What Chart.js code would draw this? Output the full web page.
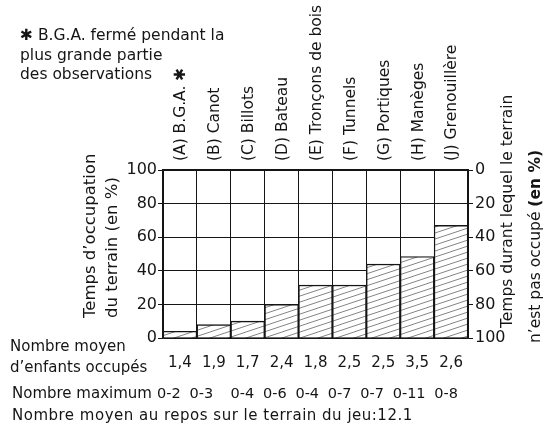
<!DOCTYPE html>
<html><head><meta charset="utf-8">
<script src="https://cdn.jsdelivr.net/npm/chart.js@4/dist/chart.umd.min.js"></script>
<style>html,body{margin:0;padding:0;background:#fff}</style>
</head><body>
<canvas id="c" width="555" height="429"></canvas>
<script>
// ---- data ----
const categories = ["(A) B.G.A. \u2731", "(B) Canot", "(C) Billots", "(D) Bateau", "(E) Tron\u00e7ons de bois", "(F) Tunnels", "(G) Portiques", "(H) Man\u00e8ges", "(J) Grenouill\u00e8re"];
const occupationPct = [4, 8, 10, 20, 31.5, 31.5, 44, 48.5, 67];
const meanChildren = ["1,4", "1,9", "1,7", "2,4", "1,8", "2,5", "2,5", "3,5", "2,6"];
const maxNumbers = ["0-2", "0-3", "0-4", "0-6", "0-4", "0-7", "0-7", "0-11", "0-8"];
const restMean = "12.1";
const noteLines = ["\u2731 B.G.A. ferm\u00e9 pendant la", "plus grande partie", "des observations"];
const leftTitle = ["Temps d\u2019occupation", "du terrain (en %)"];
const rightTitle = ["Temps durant lequel le terrain", "n\u2019est pas occup\u00e9 ", "(en %)"];

const FONT = "'DejaVu Sans'";
const INK = "#151515";

// hatch pattern
function hatch() {
  const p = document.createElement('canvas');
  p.width = 18; p.height = 6;
  const g = p.getContext('2d');
  g.fillStyle = '#fff'; g.fillRect(0, 0, 18, 6);
  g.strokeStyle = '#666'; g.lineWidth = 0.8;
  g.beginPath();
  g.moveTo(-18, 12); g.lineTo(36, -6);
  g.moveTo(-18, 6); g.lineTo(36, -12);
  g.moveTo(-18, 18); g.lineTo(36, 0);
  g.stroke();
  return g.createPattern(p, 'repeat');
}

const textPlugin = {
  id: 'texts',
  afterDraw(chart) {
    const ctx = chart.ctx;
    ctx.save();
    ctx.fillStyle = INK;
    ctx.textBaseline = 'alphabetic';
    ctx.textAlign = 'left';
    ctx.font = "15.5px " + FONT;
    const nb = [40, 60, 79];
    noteLines.forEach((t, i) => ctx.fillText(t, 20, nb[i]));
    // left title
    ctx.font = "16.5px " + FONT;
    ctx.textBaseline = 'middle';
    [[leftTitle[0], 91], [leftTitle[1], 113]].forEach(([t, x]) => {
      ctx.save(); ctx.translate(x, 318); ctx.rotate(-Math.PI / 2); ctx.fillText(t, 0, 0); ctx.restore();
    });
    // right title
    ctx.font = "15.5px " + FONT;
    ctx.save(); ctx.translate(508, 328); ctx.rotate(-Math.PI / 2); ctx.fillText(rightTitle[0], 0, 0); ctx.restore();
    ctx.save(); ctx.translate(536, 343); ctx.rotate(-Math.PI / 2);
    ctx.fillText(rightTitle[1], 0, 0);
    const w = ctx.measureText(rightTitle[1]).width;
    ctx.font = "bold 15.5px " + FONT;
    ctx.fillText(rightTitle[2], w, 0);
    ctx.restore();
    // bottom texts
    ctx.font = "15px " + FONT;
    ctx.textBaseline = 'alphabetic';
    ctx.fillText("Nombre moyen", 10, 351);
    ctx.fillText("d\u2019enfants occup\u00e9s", 10, 372);
    ctx.fillText("Nombre maximum", 12, 398);
    // row of maximum numbers: spread between start and end x
    ctx.font = "14.5px " + FONT;
    const rowStart = 157, rowEnd = 458;
    const widths = maxNumbers.map(t => ctx.measureText(t).width);
    const total = widths.reduce((a, b) => a + b, 0);
    const gap = (rowEnd - rowStart - total) / (maxNumbers.length - 1 + 1);
    let x = rowStart;
    maxNumbers.forEach((t, i) => {
      ctx.fillText(t, x, 398);
      x += widths[i] + gap * (i === 1 ? 2 : 1);
    });
    ctx.font = "15px " + FONT;
    ctx.letterSpacing = "0.5px";
    ctx.fillText("Nombre moyen au repos sur le terrain du jeu:" + restMean, 12, 420);
    ctx.restore();
  }
};

new Chart(document.getElementById('c'), {
  type: 'bar',
  data: {
    labels: categories,
    datasets: [{
      data: occupationPct,
      xAxisID: 'x', yAxisID: 'y',
      backgroundColor: hatch(),
      borderColor: INK, borderWidth: 1.4,
      categoryPercentage: 1, barPercentage: 1
    }]
  },
  options: {
    responsive: false, animation: false,
    devicePixelRatio: 1,
    layout: { padding: 0 },
    plugins: { legend: { display: false }, tooltip: { enabled: false } },
    scales: {
      x: {
        type: 'category', position: 'top', offset: true,
        labels: categories,
        grid: { offset: true, color: INK, lineWidth: 1, drawTicks: false },
        border: { color: INK, width: 1.5 },
        ticks: { minRotation: 90, maxRotation: 90, autoSkip: false, padding: 9, labelOffset: 20, color: INK, font: { family: FONT, size: 15.5 } },
        afterFit(s) { s.height = 170; }
      },
      x2: {
        type: 'category', position: 'bottom', offset: true,
        labels: meanChildren,
        grid: { display: false, drawTicks: false },
        border: { color: INK, width: 1.5 },
        ticks: { padding: 16, color: INK, font: { family: FONT, size: 15 } },
        afterFit(s) { s.height = 91; }
      },
      y: {
        position: 'left', min: 0, max: 100,
        grid: { color: INK, lineWidth: 1, tickLength: 5 },
        border: { color: INK, width: 1.5 },
        ticks: { stepSize: 20, padding: 1, color: INK, font: { family: FONT, size: 16 } },
        afterFit(s) { s.width = 163; }
      },
      y2: {
        position: 'right', min: 0, max: 100, reverse: true,
        grid: { drawOnChartArea: false, color: INK, tickLength: 5 },
        border: { color: INK, width: 1.5 },
        ticks: { stepSize: 20, padding: 2, color: INK, font: { family: FONT, size: 16 } },
        afterFit(s) { s.width = 87; }
      }
    }
  },
  plugins: [textPlugin]
});
</script>
</body></html>
